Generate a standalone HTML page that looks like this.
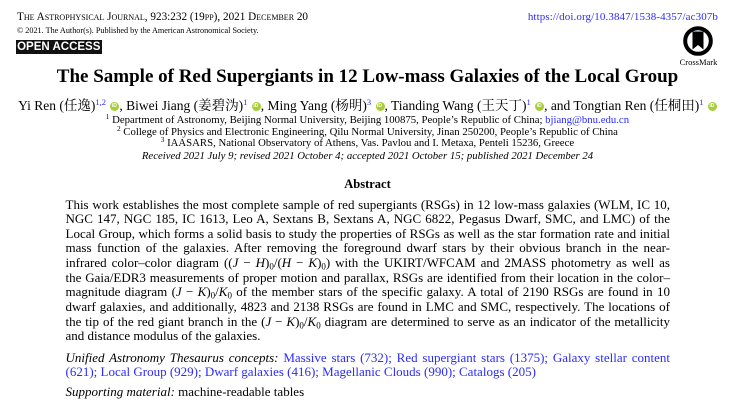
<!DOCTYPE html>
<html><head><meta charset="utf-8">
<style>
html,body{margin:0;padding:0;background:#fff;}
body{width:742px;height:407px;position:relative;overflow:hidden;font-family:"Liberation Serif","Noto Serif CJK SC",serif;color:#000;}
.abs{position:absolute;white-space:nowrap;}
.blue{color:#2b2bff;}
.c{left:0;width:735px;text-align:center;}
sup{font-size:8.5px;line-height:0;vertical-align:5px;}
.orc{display:inline-block;width:9px;height:9px;border-radius:50%;background:#a6ce39;vertical-align:-0.5px;margin-left:1px;position:relative;}
.orc:after{content:"iD";position:absolute;left:1.5px;top:1.5px;font:bold 5px "Liberation Sans",sans-serif;color:#fff;line-height:6px;}
.ab{position:absolute;left:65.5px;width:604.5px;font-size:13px;}
.ab div{height:14.63px;line-height:14.63px;text-align:justify;text-align-last:justify;overflow:visible;}
.ab div.l{text-align-last:left;}
sub{font-size:9px;line-height:0;vertical-align:-2.5px;}
.aff{font-size:10.75px;line-height:12px;}
.aff sup{font-size:7px;vertical-align:4px;color:#000;}
</style></head><body>

<div class="abs" style="left:17px;top:10.5px;font-size:11.2px;line-height:13px;font-variant:small-caps;">The Astrophysical Journal, 923:232 (19pp), 2021 December 20</div>
<div class="abs" style="left:17px;top:26.5px;font-size:8.2px;line-height:8px;">© 2021. The Author(s). Published by the American Astronomical Society.</div>
<div class="abs" style="left:16px;top:40px;width:85.5px;height:13.5px;background:#111;color:#fff;font:bold 11.5px/14px 'Liberation Sans',sans-serif;text-align:center;">OPEN ACCESS</div>

<div class="abs blue" style="right:24px;top:10.5px;font-size:11px;line-height:13px;letter-spacing:0.1px;">https://doi.org/10.3847/1538-4357/ac307b</div>

<svg class="abs" style="left:682px;top:25px;" width="32" height="32" viewBox="0 0 32 32">
<circle cx="16" cy="16" r="12.8" fill="none" stroke="#000" stroke-width="4"/>
<path d="M10.5 6.5 h11 v18 l-5.5 -4.5 l-5.5 4.5 z" fill="#000"/>
</svg>
<div class="abs" style="left:678px;top:56.5px;width:41px;text-align:center;font-size:8.5px;line-height:10px;">CrossMark</div>

<div class="abs c" style="top:66px;font-size:19px;line-height:22px;font-weight:bold;">The Sample of Red Supergiants in 12 Low-mass Galaxies of the Local Group</div>

<div class="abs c" style="top:98px;font-size:13.5px;line-height:16px;">Yi Ren (任逸)<sup class="blue">1,2</sup> <span class="orc"></span>, Biwei Jiang (姜碧沩)<sup class="blue">1</sup> <span class="orc"></span>, Ming Yang (杨明)<sup class="blue">3</sup> <span class="orc"></span>, Tianding Wang (王天丁)<sup class="blue">1</sup> <span class="orc"></span>, and Tongtian Ren (任桐田)<sup class="blue">1</sup> <span class="orc"></span></div>

<div class="abs c aff" style="top:114px;"><sup>1</sup> Department of Astronomy, Beijing Normal University, Beijing 100875, People’s Republic of China; <span class="blue">bjiang@bnu.edu.cn</span></div>
<div class="abs c aff" style="top:125.5px;"><sup>2</sup> College of Physics and Electronic Engineering, Qilu Normal University, Jinan 250200, People’s Republic of China</div>
<div class="abs c aff" style="top:137px;"><sup>3</sup> IAASARS, National Observatory of Athens, Vas. Pavlou and I. Metaxa, Penteli 15236, Greece</div>
<div class="abs c aff" style="top:150px;font-style:italic;">Received 2021 July 9; revised 2021 October 4; accepted 2021 October 15; published 2021 December 24</div>

<div class="abs c" style="top:177px;font-size:12.5px;line-height:14px;font-weight:bold;">Abstract</div>

<div class="ab" style="top:197.5px;">
<div>This work establishes the most complete sample of red supergiants (RSGs) in 12 low-mass galaxies (WLM, IC 10,</div>
<div>NGC 147, NGC 185, IC 1613, Leo A, Sextans B, Sextans A, NGC 6822, Pegasus Dwarf, SMC, and LMC) of the</div>
<div>Local Group, which forms a solid basis to study the properties of RSGs as well as the star formation rate and initial</div>
<div>mass function of the galaxies. After removing the foreground dwarf stars by their obvious branch in the near-</div>
<div>infrared color–color diagram ((<i>J</i> − <i>H</i>)<sub>0</sub>/(<i>H</i> − <i>K</i>)<sub>0</sub>) with the UKIRT/WFCAM and 2MASS photometry as well as</div>
<div>the Gaia/EDR3 measurements of proper motion and parallax, RSGs are identified from their location in the color–</div>
<div>magnitude diagram (<i>J</i> − <i>K</i>)<sub>0</sub>/<i>K</i><sub>0</sub> of the member stars of the specific galaxy. A total of 2190 RSGs are found in 10</div>
<div>dwarf galaxies, and additionally, 4823 and 2138 RSGs are found in LMC and SMC, respectively. The locations of</div>
<div>the tip of the red giant branch in the (<i>J</i> − <i>K</i>)<sub>0</sub>/<i>K</i><sub>0</sub> diagram are determined to serve as an indicator of the metallicity</div>
<div class="l">and distance modulus of the galaxies.</div>
</div>

<div class="ab" style="top:350.5px;">
<div style="height:14px;line-height:14px;"><i>Unified Astronomy Thesaurus concepts:</i> <span class="blue">Massive stars (732); Red supergiant stars (1375); Galaxy stellar content</span></div>
<div class="l blue" style="height:14px;line-height:14px;">(621); Local Group (929); Dwarf galaxies (416); Magellanic Clouds (990); Catalogs (205)</div>
<div class="l" style="height:14px;line-height:14px;margin-top:6px;"><i>Supporting material:</i> machine-readable tables</div>
</div>

</body></html>
